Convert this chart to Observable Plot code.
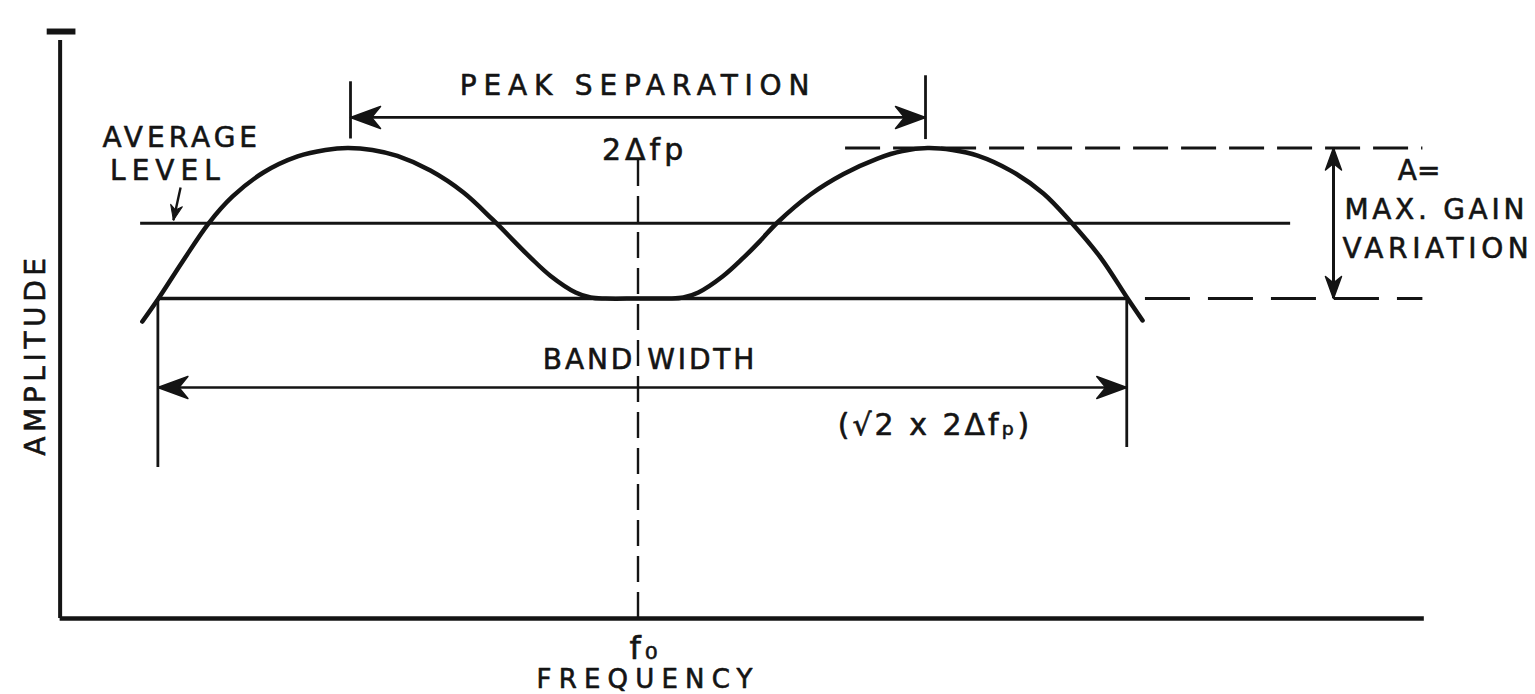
<!DOCTYPE html>
<html>
<head>
<meta charset="utf-8">
<script src="https://cdn.jsdelivr.net/npm/d3@7"></script>
<script src="https://cdn.jsdelivr.net/npm/@observablehq/plot@0.6"></script>
<style>
  html, body { margin: 0; padding: 0; background: #fff; }
  #chart { width: 1535px; height: 694px; overflow: hidden; }
</style>
</head>
<body>
<div id="chart"></div>
<script>
// ---------------- DATA (frequency offset from f0 in units of Δfp; amplitude normalised: trough 0, peak 1) -------------
const freq = [-1.724, -1.668, -1.584, -1.494, -1.410, -1.303, -1.184, -1.087, -1.010, -0.924, -0.837, -0.722, -0.607, -0.506,
              -0.374, -0.304, -0.217, -0.165, -0.113, 0.000, 0.106, 0.158, 0.210, 0.294, 0.364, 0.426, 0.485,
              0.600, 0.715, 0.833, 0.920, 1.007, 1.094, 1.181, 1.296, 1.410, 1.504, 1.609, 1.703, 1.755];
const amp  = [-0.153, 0.000, 0.246, 0.498, 0.678, 0.837, 0.944, 0.987, 1.000, 0.987, 0.947, 0.850, 0.704, 0.525,
              0.272, 0.150, 0.040, 0.007, 0.000, 0.000, 0.000, 0.007, 0.040, 0.146, 0.266, 0.385, 0.505,
              0.691, 0.827, 0.930, 0.980, 1.000, 0.987, 0.950, 0.850, 0.698, 0.512, 0.272, 0.000, -0.146];

const averageLevel = 0.5;
const troughLevel = 0;
const peakLevel = 1;
const peakFreqs = [-1, 1];          // ±Δfp
const bandEdges = [-1.67, 1.70];    // band-width limits
const centreFreq = 0;               // f0

// axes frame (data units)
const axisX0 = -2.01, axisY0 = -2.126, axisXEnd = 2.735, axisYTop = 1.714, axisCapY = 1.774;

// annotation geometry (data units)
const avgLineExtent = [-1.73, 2.27];
const troughDashExtent = [1.765, 2.73];
const peakDashExtent = [0.722, 2.73];
const centreDashTop = 0.917;
const peakTicks = [{x: -1, y1: 1.06, y2: 1.44}, {x: 1, y1: 1.056, y2: 1.48}];
const peakArrowY = 1.203;
const bandTicks = [{x: -1.67, y1: 0, y2: -1.123}, {x: 1.70, y1: 0, y2: -0.99}];
const bandArrowY = -0.591;
const gainArrowX = 2.419;
const avgPointer = {x1: -1.591, y1: 0.738, x2: -1.616, y2: 0.52};

const labelText = ["PEAK SEPARATION", "AVERAGE", "LEVEL", "BAND WIDTH", "FREQUENCY"];
const labelX    = [0, -1.587, -1.635, 0.042, 0.035];
const labelY    = [1.409, 1.063, 0.85, -0.412, -2.532];
const mathText  = ["2Δfp", "(√2 x 2Δfₚ)", "f₀"];
const mathX     = [0.023, 1.033, 0.026];
const mathY     = [0.981, -0.844, -2.326];
const sideText  = ["A=", "MAX. GAIN", "VARIATION"];
const sideX     = [2.643, 2.457, 2.450];
const sideY     = [0.844, 0.591, 0.326];
const yLabel = "AMPLITUDE", yLabelPos = {x: -2.094, y: -0.372};

// ---------------- STYLE -------------
const ink = "#141414";
const font = "DejaVu Sans";
const fontSize = 28;
const spacing = {"PEAK SEPARATION": 6.8, "2Δfp": 4, "AVERAGE": 4, "LEVEL": 6, "BAND WIDTH": 2.9,
                 "(√2 x 2Δfₚ)": 3, "f₀": 4, "FREQUENCY": 7.2, "A=": 0, "MAX. GAIN": 3.7, "VARIATION": 4.6, "AMPLITUDE": 4.6};
const sizeOf = {"FREQUENCY": 26, "f₀": 32};

const curve = freq.map((f, i) => ({f, a: amp[i]}));
const labels = labelText.map((t, i) => ({t, x: labelX[i], y: labelY[i]}));
const maths = mathText.map((t, i) => ({t, x: mathX[i], y: mathY[i]}));
const sides = sideText.map((t, i) => ({t, x: sideX[i], y: sideY[i]}));

// filled dart arrow-head (tip at the anchor point)
const dart = {
  draw(ctx, l, r) {
    ctx.moveTo(0, -l);
    ctx.lineTo(-r, 0);
    ctx.lineTo(0, -l * 0.3);
    ctx.lineTo(r, 0);
    ctx.closePath();
  }
};

const bigHeads = [
  {x: peakFreqs[0], y: peakArrowY, rot: -90},
  {x: peakFreqs[1], y: peakArrowY, rot: 90},
  {x: bandEdges[0], y: bandArrowY, rot: -90},
  {x: bandEdges[1], y: bandArrowY, rot: 90}
];
const gainHeads = [
  {x: gainArrowX, y: peakLevel, rot: 0},
  {x: gainArrowX, y: troughLevel, rot: 180}
];
const pointerHeads = [{x: avgPointer.x2, y: avgPointer.y2, rot: 192}];

const textStyle = {x: "x", y: "y", text: "t", fontFamily: font, fill: ink, stroke: ink, strokeWidth: 0.6};

const W = 1535, H = 694;
const chart = Plot.plot({
  width: W, height: H,
  margin: 0,
  x: {domain: [-2.2174, 3.1217], axis: null},
  y: {domain: [-2.6312, 1.9801], axis: null},
  style: {background: "#fff", fontFamily: font, color: ink},
  marks: [
    // axes
    Plot.ruleX([axisX0], {y1: axisY0, y2: axisYTop, stroke: ink, strokeWidth: 4}),
    Plot.ruleY([axisCapY], {x1: axisX0 - 0.045, x2: axisX0 + 0.055, stroke: ink, strokeWidth: 6}),
    Plot.ruleY([axisY0], {x1: axisX0, x2: axisXEnd, stroke: ink, strokeWidth: 4.5}),
    // levels
    Plot.ruleY([averageLevel], {x1: avgLineExtent[0], x2: avgLineExtent[1], stroke: ink, strokeWidth: 2.8}),
    Plot.ruleY([troughLevel], {x1: bandEdges[0], x2: bandEdges[1], stroke: ink, strokeWidth: 3.4}),
    Plot.ruleY([troughLevel], {x1: troughDashExtent[0], x2: troughDashExtent[1], stroke: ink, strokeWidth: 3, strokeDasharray: "45,18"}),
    Plot.ruleY([peakLevel], {x1: peakDashExtent[0], x2: peakDashExtent[1], stroke: ink, strokeWidth: 3.2, strokeDasharray: "35,13"}),
    Plot.ruleX([centreFreq], {y1: centreDashTop, y2: axisY0, stroke: ink, strokeWidth: 2.4, strokeDasharray: "26,10"}),
    // peak separation
    Plot.ruleX(peakTicks, {x: "x", y1: "y1", y2: "y2", stroke: ink, strokeWidth: 2.8}),
    Plot.ruleY([peakArrowY], {x1: peakFreqs[0], x2: peakFreqs[1], stroke: ink, strokeWidth: 2.8}),
    // band width
    Plot.ruleX(bandTicks, {x: "x", y1: "y1", y2: "y2", stroke: ink, strokeWidth: 2.8}),
    Plot.ruleY([bandArrowY], {x1: bandEdges[0], x2: bandEdges[1], stroke: ink, strokeWidth: 2.6}),
    // max gain variation
    Plot.ruleX([gainArrowX], {y1: troughLevel, y2: peakLevel, stroke: ink, strokeWidth: 3}),
    // average level pointer
    Plot.link([avgPointer], {x1: "x1", y1: "y1", x2: "x2", y2: "y2", stroke: ink, strokeWidth: 2.4}),
    // arrow heads
    Plot.vector(bigHeads, {x: "x", y: "y", rotate: "rot", length: 30, r: 11, anchor: "end", shape: dart, fill: ink, stroke: ink, strokeWidth: 1.5}),
    Plot.vector(gainHeads, {x: "x", y: "y", rotate: "rot", length: 22, r: 8, anchor: "end", shape: dart, fill: ink, stroke: ink, strokeWidth: 1.5}),
    Plot.vector(pointerHeads, {x: "x", y: "y", rotate: "rot", length: 15, r: 6, anchor: "end", shape: dart, fill: ink, stroke: ink, strokeWidth: 1}),
    // response curve
    Plot.line(curve, {x: "f", y: "a", curve: "catmull-rom", stroke: ink, strokeWidth: 4.5}),
    // text
    Plot.text(labels, {...textStyle, fontSize: d => sizeOf[d.t] ?? fontSize, textAnchor: "middle"}),
    Plot.text(maths, {...textStyle, fontSize: d => sizeOf[d.t] ?? 30, textAnchor: "middle"}),
    Plot.text(sides, {...textStyle, fontSize, textAnchor: "start"}),
    Plot.text([yLabel], {x: yLabelPos.x, y: yLabelPos.y, text: d => d, rotate: -90, fontSize, fontFamily: font, fill: ink, stroke: ink, strokeWidth: 0.6, textAnchor: "middle"})
  ]
});

d3.select(chart).selectAll("text").each(function () {
  const s = spacing[this.textContent];
  if (s != null) this.setAttribute("letter-spacing", s);
});

document.getElementById("chart").appendChild(chart);
</script>
</body>
</html>
